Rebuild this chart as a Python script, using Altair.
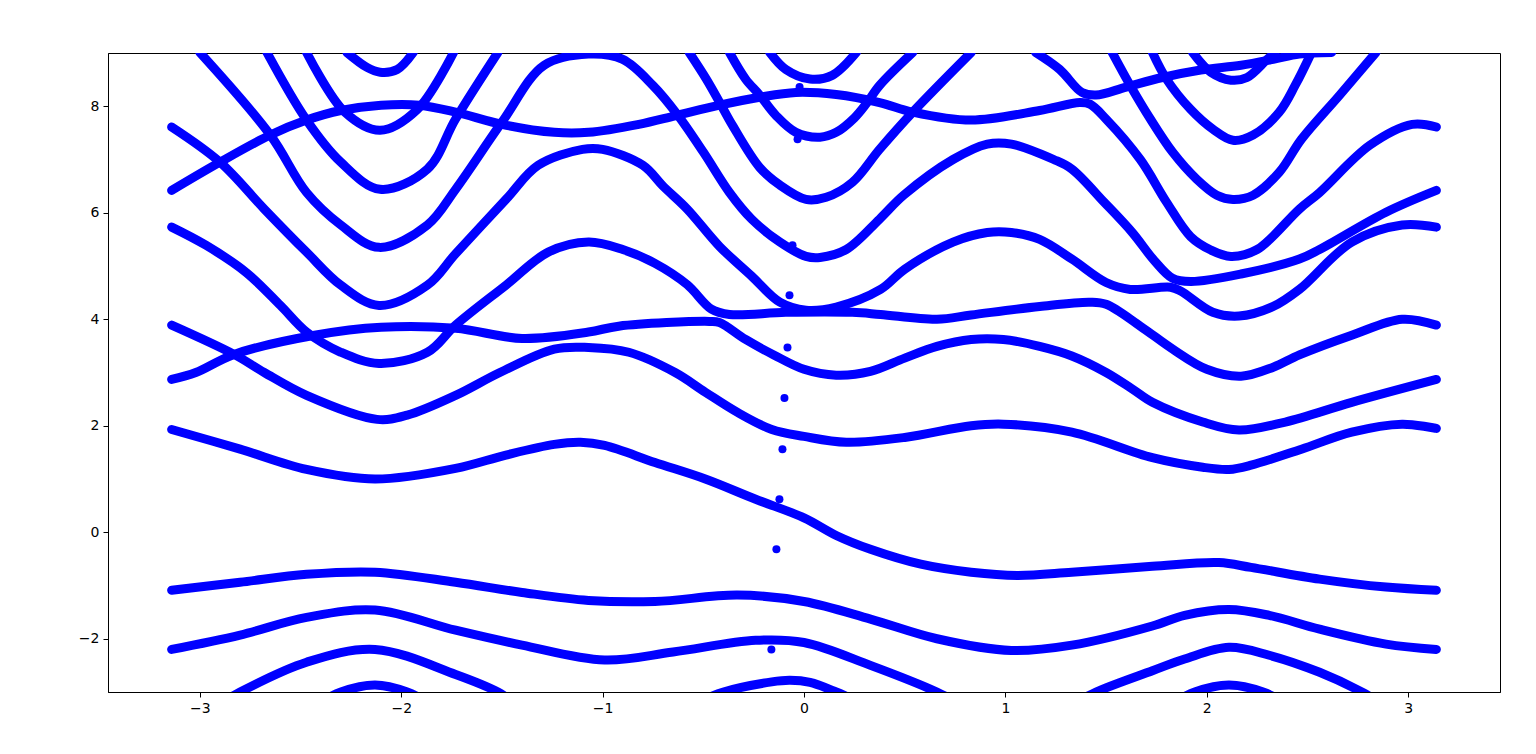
import altair as alt
import pandas as pd

X_TICKS = [-3, -2, -1, 0, 1, 2, 3]
Y_TICKS = [-2, 0, 2, 4, 6, 8]
X_DOMAIN = [-3.456, 3.456]
Y_DOMAIN = [-3.0, 9.0]

# ---- curves: (k, E) pairs, left to right ----
CURVE_A = [(-3.14, 1.93), (-2.80, 1.56), (-2.47, 1.18), (-2.13, 1.00), (-1.73, 1.20), (-1.48, 1.45),
           (-1.24, 1.65), (-1.11, 1.69), (-0.99, 1.63), (-0.74, 1.31), (-0.49, 1.00), (-0.24, 0.62),
           (0.00, 0.27), (0.16, -0.06), (0.33, -0.32), (0.58, -0.60), (0.83, -0.75), (1.06, -0.81),
           (1.33, -0.75), (1.73, -0.64), (2.06, -0.57), (2.22, -0.66), (2.56, -0.88), (2.89, -1.03),
           (3.14, -1.09)]
CURVE_B = [(-3.14, -1.09), (-2.80, -0.94), (-2.47, -0.79), (-2.13, -0.75), (-1.73, -0.94), (-1.40, -1.13),
           (-1.07, -1.28), (-0.74, -1.30), (-0.33, -1.18), (0.00, -1.30), (0.33, -1.63), (0.66, -2.00),
           (1.03, -2.22), (1.33, -2.12), (1.73, -1.76), (1.89, -1.56), (2.11, -1.45), (2.31, -1.56),
           (2.56, -1.82), (2.89, -2.10), (3.14, -2.20)]
CURVE_C1 = [(-3.14, -2.20), (-2.80, -1.93), (-2.47, -1.60), (-2.13, -1.46), (-1.73, -1.84), (-1.40, -2.12),
            (-0.99, -2.40), (-0.65, -2.25), (-0.24, -2.03), (0.00, -2.07), (0.33, -2.50), (0.66, -3.00),
            (0.75, -3.18)]
CURVE_C2 = [(1.36, -3.18), (1.45, -3.00), (1.73, -2.60), (1.89, -2.38), (2.11, -2.16), (2.31, -2.31),
            (2.56, -2.63), (2.77, -3.00), (2.85, -3.18)]
CURVE_D = [(-2.88, -3.18), (-2.80, -3.00), (-2.47, -2.44), (-2.13, -2.20), (-1.73, -2.67), (-1.52, -3.00),
           (-1.45, -3.18)]
CURVE_E1 = [(-2.38, -3.15), (-2.30, -3.00), (-2.13, -2.87), (-1.97, -3.00), (-1.89, -3.15)]
CURVE_E2 = [(-0.50, -3.15), (-0.40, -3.00), (-0.16, -2.81), (-0.07, -2.78), (0.03, -2.82), (0.16, -3.00),
            (0.25, -3.15)]
CURVE_E3 = [(1.86, -3.15), (1.94, -3.00), (2.11, -2.87), (2.28, -3.00), (2.36, -3.15)]
CURVE_F = [(-3.14, 3.89), (-2.83, 3.34), (-2.68, 3.00), (-2.47, 2.57), (-2.12, 2.12), (-1.97, 2.20),
           (-1.73, 2.57), (-1.51, 3.00), (-1.24, 3.44), (-1.07, 3.47), (-0.87, 3.38), (-0.64, 3.00),
           (-0.49, 2.63), (-0.33, 2.25), (-0.16, 1.93), (0.00, 1.80), (0.21, 1.69), (0.50, 1.78),
           (0.83, 2.00), (0.99, 2.03), (1.33, 1.88), (1.73, 1.40), (1.98, 1.22), (2.11, 1.18),
           (2.22, 1.26), (2.47, 1.56), (2.72, 1.88), (2.97, 2.03), (3.14, 1.95)]
CURVE_G = [(-3.14, 2.87), (-3.02, 3.00), (-2.83, 3.34), (-2.43, 3.70), (-2.10, 3.85), (-1.73, 3.83),
           (-1.40, 3.64), (-1.07, 3.76), (-0.92, 3.87), (-0.47, 3.96), (-0.42, 3.94), (-0.29, 3.62),
           (-0.15, 3.33), (0.00, 3.06), (0.16, 2.95), (0.33, 3.02), (0.50, 3.27), (0.66, 3.49),
           (0.83, 3.62), (0.99, 3.62), (1.17, 3.49), (1.33, 3.31), (1.50, 3.00), (1.63, 2.69),
           (1.73, 2.44), (1.98, 2.07), (2.16, 1.92), (2.39, 2.07), (2.72, 2.44), (3.14, 2.87)]
CURVE_H = [(-3.14, 5.73), (-2.97, 5.39), (-2.77, 4.88), (-2.60, 4.26), (-2.47, 3.76), (-2.30, 3.38),
           (-2.11, 3.17), (-1.87, 3.38), (-1.73, 3.89), (-1.48, 4.64), (-1.27, 5.26), (-1.07, 5.45),
           (-0.90, 5.31), (-0.74, 5.05), (-0.58, 4.65), (-0.46, 4.19), (-0.37, 4.09), (-0.09, 4.13),
           (0.24, 4.13), (0.38, 4.09), (0.66, 4.00), (0.83, 4.08), (1.17, 4.24), (1.42, 4.32),
           (1.50, 4.28), (1.67, 3.87), (1.83, 3.44), (2.00, 3.06), (2.17, 2.93), (2.33, 3.10),
           (2.46, 3.33), (2.72, 3.70), (2.97, 4.00), (3.14, 3.89)]
CURVE_I = [(-3.14, 7.61), (-2.90, 6.95), (-2.68, 6.07), (-2.47, 5.26), (-2.30, 4.64), (-2.11, 4.26),
           (-1.87, 4.64), (-1.73, 5.23), (-1.48, 6.25), (-1.32, 6.89), (-1.10, 7.19), (-1.00, 7.19),
           (-0.80, 6.89), (-0.70, 6.50), (-0.58, 6.07), (-0.42, 5.37), (-0.26, 4.81), (-0.12, 4.32),
           (0.01, 4.17), (0.16, 4.23), (0.38, 4.56), (0.50, 4.94), (0.74, 5.45), (0.91, 5.63),
           (1.03, 5.63), (1.17, 5.50), (1.33, 5.13), (1.50, 4.69), (1.62, 4.56), (1.82, 4.60),
           (1.87, 4.53), (2.03, 4.13), (2.16, 4.06), (2.33, 4.24), (2.46, 4.56), (2.72, 5.45),
           (2.97, 5.77), (3.14, 5.73)]
CURVE_J = [(-3.00, 9.01), (-2.65, 7.46), (-2.47, 6.38), (-2.30, 5.77), (-2.11, 5.35), (-1.87, 5.77),
           (-1.73, 6.44), (-1.50, 7.70), (-1.29, 8.77), (-1.07, 8.98), (-0.90, 8.88), (-0.75, 8.39),
           (-0.63, 7.85), (-0.50, 7.14), (-0.37, 6.38), (-0.26, 5.88), (-0.12, 5.45), (0.01, 5.18),
           (0.08, 5.16), (0.21, 5.31), (0.375, 5.88), (0.495, 6.33), (0.74, 7.00), (0.91, 7.29),
           (1.03, 7.29), (1.24, 7.00), (1.33, 6.82), (1.49, 6.20), (1.63, 5.63), (1.74, 5.10),
           (1.83, 4.77), (1.92, 4.71), (2.17, 4.85), (2.46, 5.13), (2.56, 5.31), (2.89, 6.01),
           (3.14, 6.42)]
CURVE_K = [(-2.667, 9.01), (-2.47, 7.74), (-2.30, 6.95), (-2.105, 6.44), (-1.87, 6.82), (-1.73, 7.76),
           (-1.52, 9.01)]
CURVE_L = [(-2.47, 9.01), (-2.28, 7.89), (-2.105, 7.55), (-1.92, 7.94), (-1.74, 9.01)]
CURVE_M = [(-2.27, 9.01), (-2.17, 8.73), (-2.105, 8.64), (-2.02, 8.69), (-1.94, 9.01)]
CURVE_N = [(-3.14, 6.42), (-2.90, 6.95), (-2.65, 7.46), (-2.47, 7.74), (-2.30, 7.92), (-2.10, 8.02),
           (-1.91, 8.02), (-1.73, 7.89), (-1.50, 7.66), (-1.24, 7.51), (-1.07, 7.51), (-0.82, 7.66),
           (-0.64, 7.82), (-0.42, 8.02), (-0.22, 8.17), (-0.04, 8.26), (0.16, 8.22), (0.375, 8.07),
           (0.54, 7.89), (0.83, 7.74), (1.17, 7.92), (1.37, 8.07), (1.42, 8.04), (1.50, 7.76),
           (1.67, 7.00), (1.80, 6.20), (1.92, 5.55), (2.02, 5.30), (2.12, 5.18), (2.25, 5.31),
           (2.46, 6.07), (2.56, 6.38), (2.81, 7.27), (3.02, 7.66), (3.14, 7.61)]
CURVE_O = [(1.15, 9.01), (1.27, 8.69), (1.38, 8.26), (1.45, 8.21), (1.60, 8.36), (1.78, 8.54),
           (1.97, 8.68), (2.17, 8.77), (2.33, 8.88), (2.46, 8.98), (2.62, 9.01)]
CURVE_P = [(-0.37, 9.01), (-0.29, 8.51), (-0.22, 8.21), (-0.14, 7.83), (-0.04, 7.51), (0.08, 7.42),
           (0.16, 7.51), (0.25, 7.78), (0.31, 8.05), (0.375, 8.39), (0.54, 9.01)]
CURVE_Q = [(-0.17, 9.01), (-0.09, 8.69), (0.03, 8.51), (0.14, 8.58), (0.26, 9.01)]
CURVE_S = [(-0.57, 9.01), (-0.485, 8.51), (-0.42, 8.08), (-0.355, 7.64), (-0.22, 6.85), (-0.12, 6.52),
           (0.01, 6.25), (0.11, 6.29), (0.24, 6.57), (0.375, 7.19), (0.54, 7.89), (0.83, 9.01)]
CURVE_T = [(1.73, 9.01), (1.80, 8.51), (1.92, 7.94), (2.03, 7.57), (2.13, 7.36), (2.23, 7.46),
           (2.36, 7.89), (2.44, 8.40), (2.52, 9.01)]
CURVE_U = [(1.53, 9.01), (1.62, 8.39), (1.72, 7.76), (1.83, 7.14), (1.95, 6.63), (2.05, 6.33),
           (2.13, 6.25), (2.23, 6.33), (2.36, 6.76), (2.47, 7.38), (2.66, 8.21), (2.84, 9.01)]
CURVE_V = [(1.93, 9.01), (2.02, 8.64), (2.12, 8.49), (2.20, 8.54), (2.30, 8.88), (2.34, 9.01)]

# isolated points near k = 0
DOTS_K = [-0.162, -0.137, -0.122, -0.107, -0.097, -0.082, -0.072, -0.057, -0.032, -0.022]
DOTS_E = [-2.20, -0.32, 0.62, 1.56, 2.52, 3.47, 4.45, 5.39, 7.38, 8.36]

CURVES = {
    "A": CURVE_A, "B": CURVE_B, "C1": CURVE_C1, "C2": CURVE_C2, "D": CURVE_D,
    "E1": CURVE_E1, "E2": CURVE_E2, "E3": CURVE_E3, "F": CURVE_F, "G": CURVE_G,
    "H": CURVE_H, "I": CURVE_I, "J": CURVE_J, "K": CURVE_K, "L": CURVE_L, "M": CURVE_M,
    "N": CURVE_N, "O": CURVE_O, "P": CURVE_P, "Q": CURVE_Q, "S": CURVE_S, "T": CURVE_T,
    "U": CURVE_U, "V": CURVE_V,
}

rows = []
for name, pts in CURVES.items():
    for i, (k, e) in enumerate(pts):
        rows.append({"k": k, "E": e, "curve": name, "idx": i})
lines_df = pd.DataFrame(rows)
dots_df = pd.DataFrame({"k": DOTS_K, "E": DOTS_E})

BLUE = "#0000ff"

x_enc = alt.X("k:Q", scale=alt.Scale(domain=X_DOMAIN, nice=False, zero=False),
              axis=alt.Axis(values=X_TICKS, title=None, format="d"))
y_enc = alt.Y("E:Q", scale=alt.Scale(domain=Y_DOMAIN, nice=False, zero=False),
              axis=alt.Axis(values=Y_TICKS, title=None, format="d"))

lines = alt.Chart(lines_df).mark_line(
    color=BLUE, strokeWidth=9, strokeCap="round", strokeJoin="round",
    interpolate="catmull-rom", clip=True
).encode(x=x_enc, y=y_enc, detail="curve:N", order="idx:Q")

dots = alt.Chart(dots_df).mark_circle(color=BLUE, size=64, opacity=1, clip=True).encode(
    x=alt.X("k:Q"), y=alt.Y("E:Q"))

chart = alt.layer(lines, dots).properties(
    width=1392, height=639,
    padding={"left": 100, "top": 45, "right": 28, "bottom": 50},
    autosize=alt.AutoSizeParams(type="none"),
).configure_view(
    stroke="black", strokeWidth=1
).configure_axis(
    grid=False, domain=True, domainColor="black", domainWidth=1,
    ticks=True, tickColor="black", tickSize=5, tickWidth=1,
    labelFont="DejaVu Sans", labelFontSize=14, labelColor="black", labelPadding=4,
)

chart.save("out.html", embed_options={"renderer": "svg", "actions": False})
